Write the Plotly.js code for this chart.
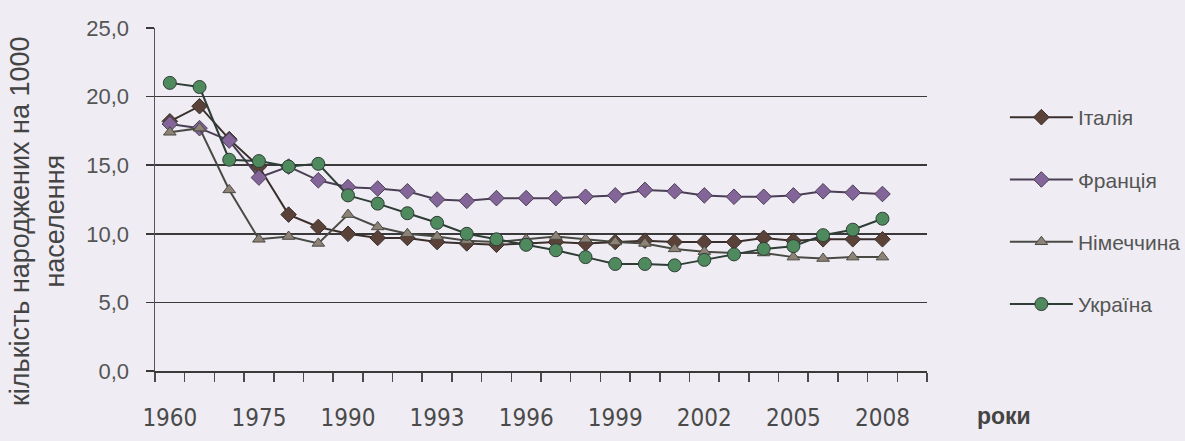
<!DOCTYPE html>
<html>
<head>
<meta charset="utf-8">
<script src="https://cdn.plot.ly/plotly-3.0.1.min.js"></script>
<style>html,body{margin:0;padding:0;background:#efedf3;}#chart{width:1185px;height:441px;}</style>
</head>
<body>
<div id="chart"></div>
<script>
// Categories (years) - 2009 is an empty slot at the end of the axis
const years = ["1960","1965","1970","1975","1980","1985","1990","1991","1992","1993","1994","1995","1996","1997","1998","1999","2000","2001","2002","2003","2004","2005","2006","2007","2008","2009"];
const tickLabels = ["1960","1975","1990","1993","1996","1999","2002","2005","2008"];

const italy   = [18.2,19.3,16.9,14.9,11.4,10.5,10.0,9.7,9.7,9.4,9.3,9.2,9.3,9.4,9.3,9.4,9.5,9.4,9.4,9.4,9.7,9.5,9.6,9.6,9.6,null];
const france  = [18.0,17.7,16.8,14.1,14.9,13.9,13.4,13.3,13.1,12.5,12.4,12.6,12.6,12.6,12.7,12.8,13.2,13.1,12.8,12.7,12.7,12.8,13.1,13.0,12.9,null];
const germany = [17.4,17.7,13.2,9.6,9.8,9.3,11.4,10.5,10.0,9.8,9.5,9.4,9.6,9.8,9.6,9.4,9.3,8.9,8.7,8.6,8.6,8.3,8.2,8.3,8.3,null];
const ukraine = [21.0,20.7,15.4,15.3,14.9,15.1,12.8,12.2,11.5,10.8,10.0,9.6,9.2,8.8,8.3,7.8,7.8,7.7,8.1,8.5,8.9,9.1,9.9,10.3,11.1,null];

const seriesNames = ["Італія","Франція","Німеччина","Україна"];

const xIdx = years.map((y,i)=>i);
const tickIdx = tickLabels.map(t=>years.indexOf(t));

function tr(name, vals, lineColor, markerColor, symbol, size, group){
  return {
    type:'scatter', mode:'lines+markers', name:name, x:xIdx, y:vals,
    legendgroup:group,
    line:{color:lineColor, width:2},
    marker:{color:markerColor, symbol:symbol, size:size, line:{color:lineColor, width:1}},
    connectgaps:false
  };
}

const data = [
  tr(seriesNames[0], italy,   '#3a2f2c', '#5a4238', 'diamond', 12, 'g1'),
  tr(seriesNames[1], france,  '#4a3f55', '#84659a', 'diamond', 12, 'g2'),
  tr(seriesNames[2], germany, '#4a4a44', '#8d8275', 'triangle-up', 11, 'g3'),
  tr(seriesNames[3], ukraine, '#2e3d35', '#4f8a5e', 'circle', 13, 'g4')
];

const font = "Liberation Sans, Arial, sans-serif";
const narrow = "Liberation Sans Narrow, DejaVu Sans Condensed, Liberation Sans, sans-serif";

const layout = {
  width:1185, height:441,
  paper_bgcolor:'#efedf3', plot_bgcolor:'#efedf3',
  separators:', ',
  margin:{l:155, r:258, t:28, b:70, pad:0, autoexpand:false},
  showlegend:true,
  legend:{xref:'container', yref:'container', x:0.848, xanchor:'left', y:0.78, yanchor:'top',
          traceorder:'grouped', tracegroupgap:32,
          font:{family:font, size:21, color:'#555'}, bgcolor:'rgba(0,0,0,0)', itemwidth:63},
  xaxis:{
    range:[-0.5, 25.5], tickmode:'array', tickvals:tickIdx, ticktext:tickLabels,
    ticks:'', showgrid:false, zeroline:false, showline:true, linecolor:'#3a3a3a', linewidth:1.5,
    tickfont:{family:narrow, size:24, color:'#4a4a4a'}, ticklabelstandoff:25,
    minor:{tickmode:'linear', tick0:-0.5, dtick:1, ticks:'outside', ticklen:9, tickwidth:1.5, tickcolor:'#4a4a4a', showgrid:false}
  },
  yaxis:{
    range:[0,25], dtick:5, tickformat:'.1f', ticks:'outside', ticklen:8, tickwidth:1.5, tickcolor:'#3a3a3a',
    showgrid:true, gridcolor:'#3a3a3a', gridwidth:1.5, zeroline:false, showline:true, linecolor:'#555', linewidth:1.5,
    tickfont:{family:font, size:22, color:'#555'}, ticklabelstandoff:12
  },
  annotations:[
    {text:'кількість народжених на 1000<br>населення', xref:'paper', yref:'paper', x:-0.153, y:0.437,
     xanchor:'center', yanchor:'middle', textangle:-90, showarrow:false, align:'center',
     font:{family:font, size:27, color:'#444'}},
    {text:'<b>роки</b>', xref:'paper', yref:'paper', x:(975-155)/772, y:-0.13, xanchor:'left', yanchor:'middle',
     showarrow:false, font:{family:font, size:23, color:'#444'}}
  ]
};

Plotly.newPlot('chart', data, layout, {displayModeBar:false, staticPlot:true});
</script>
</body>
</html>
